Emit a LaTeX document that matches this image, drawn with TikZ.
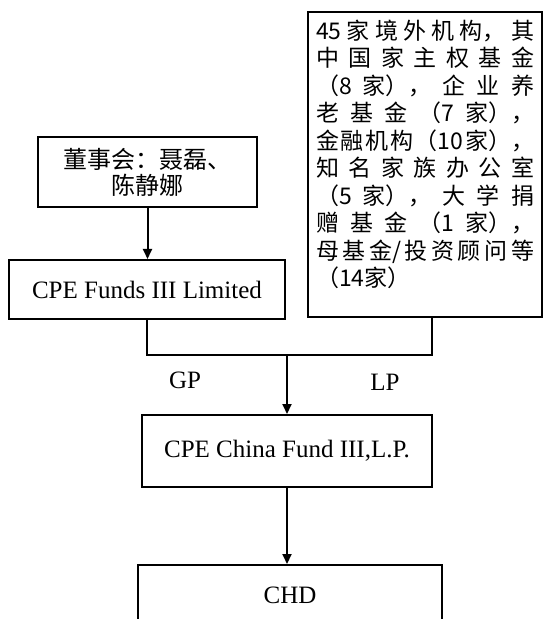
\documentclass[tikz,border=0pt]{standalone}
\usepackage{fontspec}
\setmainfont{Liberation Serif}
\newfontfamily\cjk{Noto Sans CJK SC}
\usetikzlibrary{arrows.meta}

\begin{document}
\begin{tikzpicture}[x=0.5pt, y=-0.5pt, line width=1pt,
    box/.style={draw, line width=1pt, inner sep=0pt},
    latin/.style={font=\fontsize{12.5}{14}\selectfont},
    hanzi/.style={font=\cjk\fontsize{12}{13}\selectfont},
    arrow/.style={-{Triangle[length=5pt,width=4.5pt]}}]
    \useasboundingbox (0,0) rectangle (544,619);

    \node[box, hanzi, minimum width=109.5pt, minimum height=35pt, align=center] (board) at (147.5,172) {董事会：聂磊、\\陈静娜};
    \node[box, latin, minimum width=138pt, minimum height=29.5pt] (gpfund) at (147,289.5) {CPE Funds III Limited};

    \node[box, font=\cjk\fontsize{11.5}{13.75}\selectfont, minimum width=117pt, minimum height=152.5pt, text width=109pt, align=justify] (lps) at (425,164.5) {%
        \XeTeXlinebreaklocale "zh"\XeTeXlinebreakskip=0pt plus 1fil
        \parfillskip=0pt plus 1fill
        45家境外机构，其\linebreak
        中国家主权基金\linebreak
        （8家），企业养\linebreak
        老基金（7家），\linebreak
        金融机构（10家），\linebreak
        知名家族办公室\linebreak
        （5家），大学捐\linebreak
        赠基金（1家），\linebreak
        母基金/投资顾问等\linebreak
        （14家）\par\kern10pt};

    \node[box, latin, minimum width=145pt, minimum height=36pt] (china) at (287,451) {CPE China Fund III,L.P.};
    \node[box, latin, minimum width=152pt, minimum height=30pt] (chd) at (290,595) {CHD};

    \node[latin] (gplabel) at (185,380) {GP};
    \node[latin] (lplabel) at (385,382) {LP};

    % GP and LP join, then one arrow down
    \coordinate (join) at (287,355);
    \draw (gpfund.south) |- (join);
    \draw ([xshift=3.5pt]lps.south) |- (join);
    \draw[arrow] (join) -- (china);

    \draw[arrow] (board.south) -- (board.south |- gpfund.north);
    \draw[arrow] (china.south) -- (china.south |- chd.north);
\end{tikzpicture}
\end{document}
